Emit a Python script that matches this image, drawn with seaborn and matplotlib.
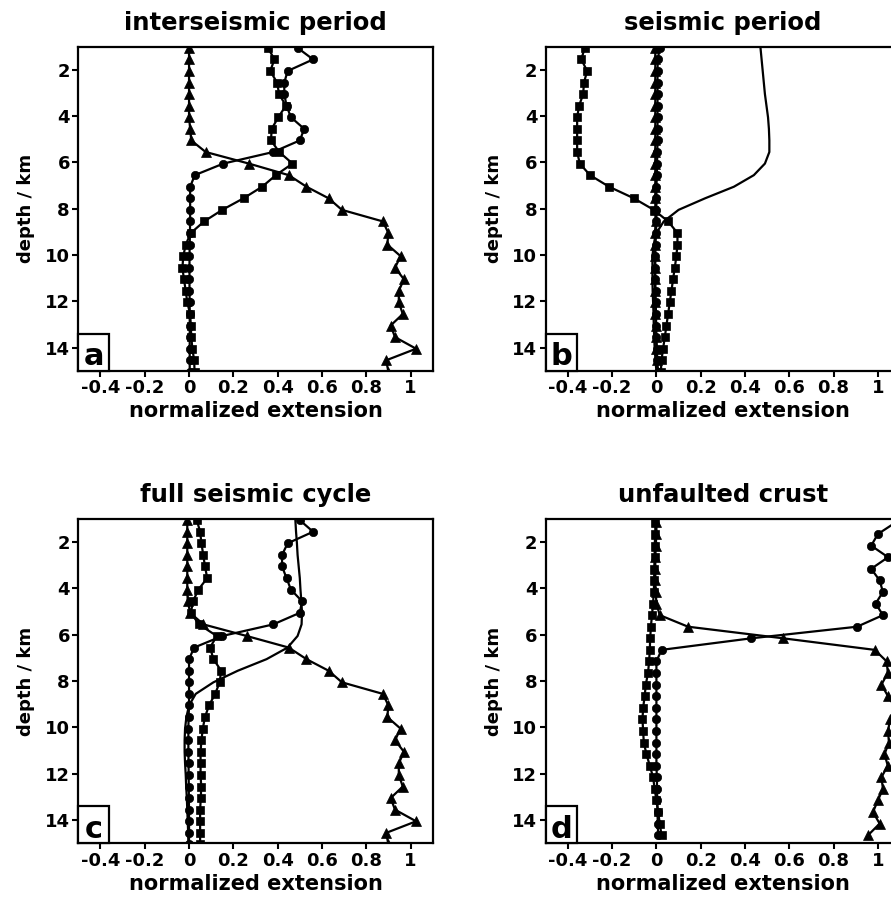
import numpy as np
import pandas as pd
import matplotlib
matplotlib.use("Agg")
import matplotlib.pyplot as plt
from matplotlib.patches import Rectangle
import seaborn as sns

sns.set_theme(style="ticks")
plt.rcParams['font.family'] = ['DejaVu Sans']
plt.rcParams.update({"text.color": "black", "axes.labelcolor": "black",
                     "xtick.color": "black", "ytick.color": "black",
                     "axes.edgecolor": "black"})

# ---------------- data ----------------
# depth grid (km) for panels a, b, c
depth_abc = [1.05, 1.55, 2.05, 2.55, 3.05, 3.55, 4.05, 4.55, 5.05, 5.55,
             6.05, 6.55, 7.05, 7.55, 8.05, 8.55, 9.05, 9.55, 10.05, 10.55,
             11.05, 11.55, 12.05, 12.55, 13.05, 13.55, 14.05, 14.55, 15.05]
# depth grid (km) for panel d
depth_d = [1.15, 1.65, 2.15, 2.65, 3.15, 3.65, 4.15, 4.65, 5.15, 5.65,
           6.15, 6.65, 7.15, 7.65, 8.15, 8.65, 9.15, 9.65, 10.15, 10.65,
           11.15, 11.65, 12.15, 12.65, 13.15, 13.65, 14.15, 14.65]

# (a) interseismic period
a_triangles = [0.0, 0.0, 0.0, 0.0, 0.0, 0.0, 0.0, 0.005, 0.01, 0.075,
               0.27, 0.45, 0.53, 0.63, 0.69, 0.875, 0.90, 0.895, 0.955, 0.93,
               0.97, 0.947, 0.947, 0.965, 0.91, 0.93, 1.025, 0.89, 0.90]
a_circles = [0.49, 0.56, 0.445, 0.43, 0.43, 0.44, 0.46, 0.52, 0.50, 0.38,
             0.155, 0.026, 0.005, 0.005, 0.005, 0.005, 0.004, 0.003, 0.002, 0.002,
             0.002, 0.002, 0.003, 0.003, 0.003, 0.003, 0.003, 0.003, 0.003]
a_squares = [0.357, 0.385, 0.367, 0.397, 0.407, 0.437, 0.403, 0.373, 0.37, 0.407,
             0.467, 0.392, 0.33, 0.246, 0.15, 0.068, 0.008, -0.015, -0.026, -0.03,
             -0.023, -0.015, -0.008, 0.005, 0.008, 0.01, 0.015, 0.023, 0.025]

# (b) seismic period
b_triangles = [-0.005, -0.005, -0.005, -0.005, -0.005, -0.005, -0.005, -0.005, -0.005, -0.005,
               -0.005, -0.005, -0.005, -0.005, -0.005, -0.004, -0.006, -0.008, -0.008, -0.008,
               -0.008, -0.007, -0.006, -0.005, -0.004, -0.002, 0.0, 0.003, 0.005]
b_circles = [0.015, 0.006, 0.005, 0.005, 0.005, 0.005, 0.005, 0.005, 0.005, 0.004,
             0.003, 0.002, 0.0, 0.0, 0.0, 0.0, -0.002, -0.004, -0.005, -0.005,
             -0.005, -0.004, -0.003, -0.002, -0.001, 0.0, 0.002, 0.004, 0.006]
b_squares = [-0.324, -0.339, -0.313, -0.327, -0.331, -0.349, -0.358, -0.358, -0.358, -0.358,
             -0.346, -0.30, -0.214, -0.102, -0.012, 0.053, 0.095, 0.095, 0.09, 0.083,
             0.075, 0.068, 0.06, 0.053, 0.045, 0.038, 0.03, 0.023, 0.02]
b_line = [0.47, 0.475, 0.48, 0.485, 0.49, 0.497, 0.504, 0.508, 0.51, 0.51,
          0.49, 0.44, 0.35, 0.22, 0.10, 0.033, 0.0, -0.012, -0.018, -0.018,
          -0.018, -0.017, -0.015, -0.013, -0.012, -0.01, -0.008, -0.004, 0.0]

# (c) full seismic cycle
c_triangles = [-0.008, -0.008, -0.008, -0.008, -0.008, -0.008, -0.008, -0.006, 0.005, 0.065,
               0.26, 0.45, 0.53, 0.63, 0.69, 0.875, 0.90, 0.895, 0.955, 0.93,
               0.97, 0.947, 0.947, 0.965, 0.91, 0.93, 1.025, 0.89, 0.90]
c_circles = [0.50, 0.56, 0.445, 0.42, 0.42, 0.44, 0.46, 0.51, 0.50, 0.38,
             0.15, 0.023, 0.0, 0.0, 0.0, 0.0, 0.0, -0.002, -0.003, -0.003,
             -0.003, -0.002, -0.002, -0.001, -0.001, 0.0, 0.0, 0.0, 0.0]
c_squares = [0.035, 0.05, 0.056, 0.064, 0.072, 0.082, 0.042, 0.018, 0.008, 0.045,
             0.125, 0.095, 0.11, 0.145, 0.138, 0.118, 0.09, 0.072, 0.062, 0.056,
             0.052, 0.052, 0.052, 0.055, 0.053, 0.05, 0.05, 0.05, 0.05]
c_line = [0.48, 0.483, 0.487, 0.49, 0.495, 0.50, 0.503, 0.507, 0.51, 0.508,
          0.49, 0.445, 0.35, 0.22, 0.11, 0.03, 0.0, -0.012, -0.018, -0.02,
          -0.02, -0.018, -0.015, -0.013, -0.01, -0.008, -0.006, -0.004, -0.003]

# (d) unfaulted crust
d_triangles = [0.0, 0.0, -0.003, -0.005, -0.005, -0.005, -0.003, 0.0, 0.015, 0.143,
               0.572, 0.986, 1.04, 1.045, 1.016, 1.046, 1.08, 1.055, 1.046, 1.05,
               1.03, 1.045, 1.016, 1.023, 1.0, 0.978, 1.008, 0.956]
d_circles = [1.08, 1.0, 0.97, 1.046, 0.97, 1.008, 1.023, 0.99, 1.023, 0.906,
             0.429, 0.023, 0.0, 0.0, 0.0, 0.0, 0.0, 0.0, 0.0, 0.0,
             0.0, 0.0, 0.002, 0.003, 0.004, 0.005, 0.006, 0.008]
d_squares = [-0.005, -0.005, -0.008, -0.008, -0.01, -0.01, -0.012, -0.015, -0.02, -0.025,
             -0.028, -0.03, -0.033, -0.038, -0.048, -0.053, -0.06, -0.063, -0.06, -0.057,
             -0.045, -0.03, -0.015, -0.008, 0.0, 0.008, 0.015, 0.023]

titles = ["interseismic period", "seismic period", "full seismic cycle", "unfaulted crust"]
panel_letters = ["a", "b", "c", "d"]
xtick_values = [-0.4, -0.2, 0, 0.2, 0.4, 0.6, 0.8, 1]
xtick_labels = ["-0.4", "-0.2", "0", "0.2", "0.4", "0.6", "0.8", "1"]
ytick_values = [2, 4, 6, 8, 10, 12, 14]

panels = [
    (depth_abc, [("^", a_triangles), ("o", a_circles), ("s", a_squares)]),
    (depth_abc, [("^", b_triangles), ("o", b_circles), ("s", b_squares), (None, b_line)]),
    (depth_abc, [("^", c_triangles), ("o", c_circles), ("s", c_squares), (None, c_line)]),
    (depth_d, [("^", d_triangles), ("o", d_circles), ("s", d_squares)]),
]

# ---------------- figure ----------------
W, H = 891, 898
fig = plt.figure(figsize=(W / 100, H / 100), dpi=100)

def px_axes(left, top, right, bottom):
    return fig.add_axes([left / W, 1 - bottom / H, (right - left) / W, (bottom - top) / H])

axes_px = [
    (78.3, 46.7, 432.7, 370.7),
    (545.7, 46.7, 900.0, 370.7),
    (78.3, 519.0, 432.7, 843.3),
    (545.7, 519.0, 900.0, 843.3),
]

for i, (box, (depth, series)) in enumerate(zip(axes_px, panels)):
    ax = px_axes(*box)
    for marker, vals in series:
        df = pd.DataFrame({"ext": vals, "depth": depth})
        kw = dict(color="black", linewidth=1.6)
        if marker is not None:
            ms = 6.5 if marker == "^" else (5.5 if marker == "s" else 6)
            kw.update(marker=marker, markersize=ms, markeredgecolor="black",
                      markerfacecolor="black", markeredgewidth=0.5)
        sns.lineplot(data=df, x="ext", y="depth", sort=False, estimator=None,
                     ax=ax, **kw)
    ax.set_xlim(-0.5, 1.1)
    ax.set_ylim(15, 1)
    ax.set_xticks(xtick_values)
    ax.set_xticklabels(xtick_labels)
    ax.set_yticks(ytick_values)
    ax.set_yticklabels([str(v) for v in ytick_values])
    for lab in ax.get_xticklabels() + ax.get_yticklabels():
        lab.set_fontweight("bold")
        lab.set_fontsize(13)
    ax.tick_params(axis="both", direction="out", length=4, width=1.5, color="black",
                   pad=2, labelcolor="black")
    for sp in ax.spines.values():
        sp.set_linewidth(1.6)
        sp.set_color("black")
    ax.set_xlabel("normalized extension", fontsize=15, fontweight="bold", labelpad=3)
    ax.set_ylabel("depth / km", fontsize=13, fontweight="bold", labelpad=7)
    ax.set_title(titles[i], fontsize=17.5, fontweight="bold", pad=12)
    # panel letter box
    ax.add_patch(Rectangle((0, 0), 31 / 354.4, 37 / 324, transform=ax.transAxes,
                           facecolor="white", edgecolor="black", linewidth=1.6,
                           zorder=5, clip_on=False))
    ax.text(15.5 / 354.4, 5.5 / 324, panel_letters[i], transform=ax.transAxes,
            ha="center", va="baseline", fontsize=22, fontweight="bold", zorder=6)

fig.savefig("out.png", dpi=100)
